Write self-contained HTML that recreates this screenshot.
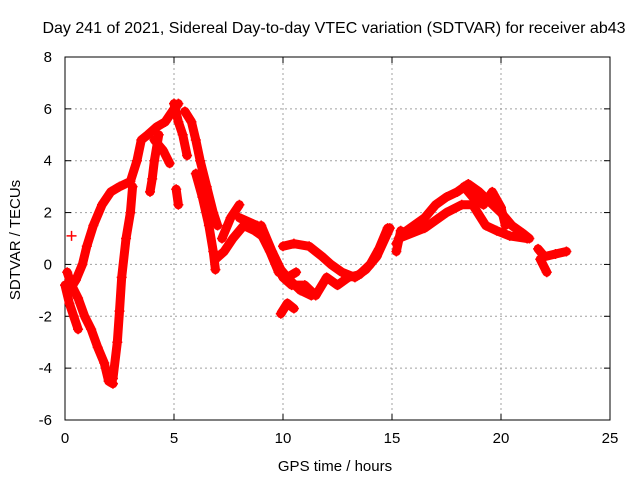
<!DOCTYPE html>
<html><head><meta charset="utf-8"><style>
body{margin:0;background:#fff;}
svg{display:block;font-family:"Liberation Sans",sans-serif;}
</style></head><body>
<svg id="chart" width="640" height="480">
<text x="334" y="33" font-size="16" text-anchor="middle">Day 241 of 2021, Sidereal Day-to-day VTEC variation (SDTVAR) for receiver ab43</text>
<text x="335" y="471" font-size="15" text-anchor="middle">GPS time / hours</text>
<text transform="translate(20,240) rotate(-90)" font-size="15" text-anchor="middle">SDTVAR / TECUs</text>
<g id="grid"></g>
<g id="axes"></g>
<g id="series"></g>
</svg>
<script>
const xTicks=[0,5,10,15,20,25];
const yTicks=[-6,-4,-2,0,2,4,6,8];
const track1=[[0.1,-0.3],[0.3,-0.8],[0.6,-1.3],[0.9,-2.0],[1.2,-2.5],[1.5,-3.2],[1.8,-3.8],[2.0,-4.5],[2.2,-4.6]];
const track2=[[0.2,-1.0],[0.5,-0.6],[0.8,0],[1.0,0.7],[1.3,1.5],[1.7,2.3],[2.1,2.8],[2.5,3.0],[3.0,3.2],[3.3,4.0],[3.5,4.8],[3.8,5.0],[4.2,5.3],[4.6,5.5],[5.0,6.0],[5.2,6.2]];
const track3=[[2.2,-4.4],[2.4,-3],[2.5,-1.8],[2.6,-0.5],[2.8,1.0],[3.0,2.0],[3.1,3.0]];
const track4=[[0.0,-0.8],[0.2,-1.5],[0.4,-2.0],[0.6,-2.5]];
const track5=[[4.3,5.0],[4.1,4.0],[4.0,3.3],[3.9,2.8]];
const track6=[[4.1,4.8],[4.5,4.4],[4.8,3.9]];
const track7=[[5.0,6.2],[5.2,5.5],[5.4,5.0],[5.6,4.2]];
const track8=[[5.5,5.9],[5.8,5.5],[6.0,4.8],[6.2,4.0],[6.5,3.0],[6.8,2.0],[7.0,1.5]];
const track9=[[6.0,3.5],[6.3,2.6],[6.6,1.5],[6.8,0.5],[6.9,-0.2]];
const track10=[[5.1,2.9],[5.2,2.3]];
const track11=[[6.9,0.2],[7.3,0.5],[7.7,1.0],[8.2,1.5],[8.7,1.3],[9.2,1.0],[9.6,0.2],[10.0,-0.5],[10.4,-0.8],[11.0,-0.8],[11.5,-1.2],[12.0,-0.5],[12.5,-0.8],[13.0,-0.5],[13.5,-0.4],[14.0,0],[14.4,0.6],[14.8,1.4]];
const track12=[[8.0,1.8],[8.8,1.5],[9.4,0.5],[9.8,-0.3],[10.2,-0.5],[10.6,-0.3]];
const track13=[[7.2,1.0],[7.6,1.8],[8.0,2.3]];
const track14=[[10.0,0.7],[10.5,0.8],[11.2,0.7],[11.8,0.3],[12.2,0],[12.7,-0.3],[13.3,-0.5],[13.8,-0.2],[14.3,0.3],[14.9,1.4]];
const track15=[[9.9,-1.9],[10.2,-1.5],[10.5,-1.7]];
const track16=[[9.0,1.5],[9.5,0.5],[9.9,-0.2],[10.3,-0.6],[10.8,-1.0],[11.3,-1.2]];
const track17=[[15.2,0.8],[15.5,1.2],[16.0,1.5],[16.5,1.8],[17.0,2.3],[17.5,2.6],[18.0,2.8],[18.5,3.1],[19.0,2.8],[19.5,2.4],[20.0,2.0],[20.5,1.5],[21.0,1.2],[21.3,1.0]];
const track18=[[15.3,1.0],[16.5,1.4],[17.5,2.0],[18.2,2.3],[18.7,2.3],[19.3,1.5],[19.8,1.3],[20.4,1.1],[21.2,1.0]];
const track19=[[18.3,3.0],[18.8,2.5],[19.2,2.3],[19.6,2.8],[20.0,2.2],[20.2,1.5]];
const track20=[[21.7,0.6],[22.0,0.3],[22.5,0.4],[23.0,0.5]];
const track21=[[21.8,0.2],[22.1,-0.3]];
const track22=[[15.2,0.5],[15.4,1.3]];
const outliers=[[0.3,1.1]];
const tracks=[track1,track2,track3,track4,track5,track6,track7,track8,track9,track10,track11,track12,track13,track14,track15,track16,track17,track18,track19,track20,track21,track22];

const X0=65,X1=610,Y0=420,Y1=57,xmin=0,xmax=25,ymin=-6,ymax=8;
const sx=v=>X0+(v-xmin)/(xmax-xmin)*(X1-X0);
const sy=v=>Y0-(v-ymin)/(ymax-ymin)*(Y0-Y1);
const NS="http://www.w3.org/2000/svg";
function mk(tag,attrs,parent){const e=document.createElementNS(NS,tag);for(const k in attrs)e.setAttribute(k,attrs[k]);parent.appendChild(e);return e;}
const grid=document.getElementById('grid'),axes=document.getElementById('axes'),series=document.getElementById('series');
xTicks.forEach(t=>{
  const x=sx(t);
  if(t>xmin&&t<xmax){const g=mk('line',{x1:x,x2:x,y1:Y0,y2:Y1,stroke:'#a0a0a0','stroke-dasharray':'2,3'},grid);
  
  }
  mk('line',{x1:x,x2:x,y1:Y0,y2:Y0-6,stroke:'#000'},axes);
  mk('line',{x1:x,x2:x,y1:Y1,y2:Y1+6,stroke:'#000'},axes);
  const l=mk('text',{x:x,y:Y0+23,'font-size':'15','text-anchor':'middle'},axes);
  l.textContent=t;
  
  
});
yTicks.forEach(t=>{
  const y=sy(t);
  if(t>ymin&&t<ymax){const g=mk('line',{x1:X0,x2:X1,y1:y,y2:y,stroke:'#a0a0a0','stroke-dasharray':'2,3'},grid);
  
  }
  mk('line',{x1:X0,x2:X0+6,y1:y,y2:y,stroke:'#000'},axes);
  mk('line',{x1:X1,x2:X1-6,y1:y,y2:y,stroke:'#000'},axes);
  const l=mk('text',{x:X0-13,y:y+5,'font-size':'15','text-anchor':'end'},axes);
  l.textContent=t;
  
  
});
const frame=mk('rect',{x:X0,y:Y1,width:X1-X0,height:Y0-Y1,fill:'none',stroke:'#000'},axes);


function plus(p,parent){const x=sx(p[0]),y=sy(p[1]);
  mk('path',{d:`M${x-5},${y}H${x+5}M${x},${y-5}V${y+5}`,stroke:'#f00','stroke-width':'1.5'},parent);}
tracks.forEach(tr=>{
  const g=mk('g',{},series);
  
  
  mk('polyline',{points:tr.map(p=>sx(p[0])+','+sy(p[1])).join(' '),fill:'none',stroke:'#f00','stroke-width':'9','stroke-linejoin':'round','stroke-linecap':'round'},g);
  tr.forEach(p=>plus(p,g));
});
outliers.forEach(p=>{const g=mk('g',{},series);
  
  
  plus(p,g);});
</script>
</body></html>
